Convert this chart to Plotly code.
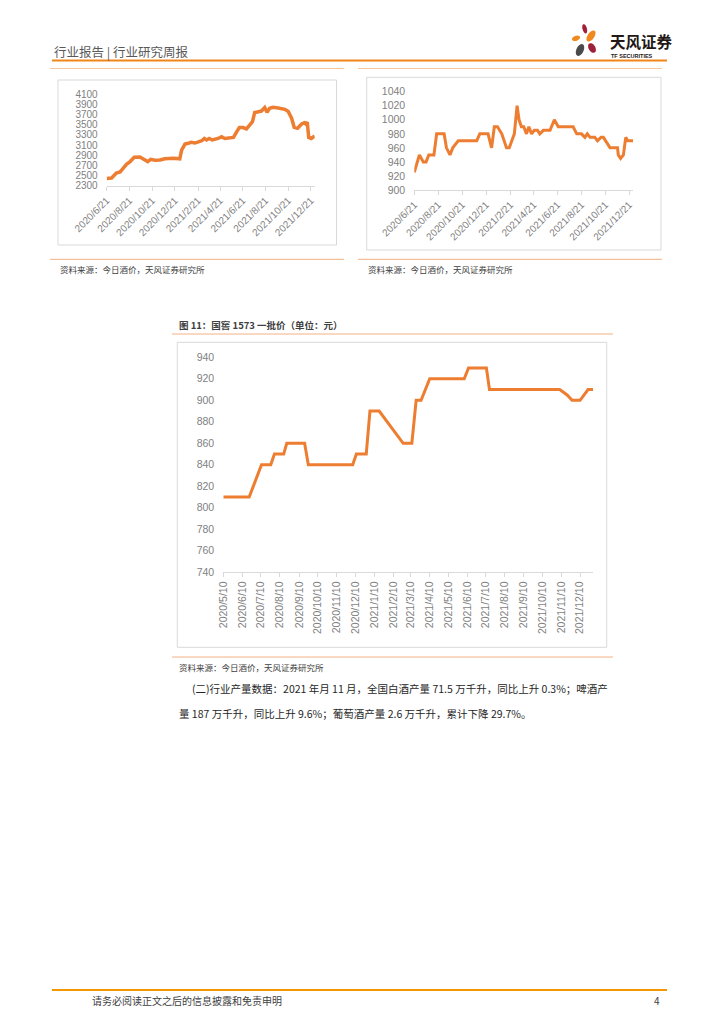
import math
import plotly.graph_objects as go

W, H = 724, 1024
OX, OY = 8, 8  # page body offset compensation
def px(x): return (x - OX) / W
def py(y): return 1 - (y - OY) / H

ORANGE = "#ED7D31"

# ---------- Chart A (top-left, partial previous figure) ----------
a_dates = ["2020-06-21","2020-07-04","2020-07-17","2020-07-27","2020-08-04","2020-08-13","2020-08-22",
           "2020-09-03","2020-09-18","2020-09-30","2020-10-09","2020-10-17","2020-10-28","2020-11-11",
           "2020-11-24","2020-12-17","2020-12-28","2021-01-03","2021-01-08","2021-01-17","2021-01-26",
           "2021-02-02","2021-02-13","2021-02-22","2021-03-03","2021-03-10","2021-03-16","2021-03-23",
           "2021-03-31","2021-04-16","2021-04-25","2021-05-04","2021-05-27","2021-06-05","2021-06-12",
           "2021-06-22","2021-07-01","2021-07-10","2021-07-17","2021-07-23","2021-08-01","2021-08-10",
           "2021-08-19","2021-08-25","2021-09-01","2021-09-10","2021-09-24","2021-10-12","2021-10-21",
           "2021-10-30","2021-11-06","2021-11-15","2021-11-26","2021-12-03","2021-12-07","2021-12-11",
           "2021-12-15","2021-12-22","2021-12-31"]
a_vals = [2440,2450,2550,2570,2640,2720,2770,
          2860,2865,2805,2775,2820,2800,2805,
          2830,2840,2825,2830,3000,3120,3135,
          3155,3140,3170,3185,3230,3200,3230,
          3200,3230,3265,3230,3250,3365,3445,
          3445,3420,3500,3560,3740,3760,3770,
          3840,3745,3825,3845,3830,3805,3760,
          3630,3450,3430,3515,3540,3515,3550,
          3250,3230,3280]
a_tickvals = ["2020-06-21","2020-08-21","2020-10-21","2020-12-21","2021-02-21",
              "2021-04-21","2021-06-21","2021-08-21","2021-10-21","2021-12-21"]
a_ticktext = ["2020/6/21","2020/8/21","2020/10/21","2020/12/21","2021/2/21",
              "2021/4/21","2021/6/21","2021/8/21","2021/10/21","2021/12/21"]

# ---------- Chart B (top-right, partial previous figure) ----------
b_dates = ["2020-06-21","2020-07-04","2020-07-14","2020-07-21","2020-07-28","2020-08-10","2020-08-17",
           "2020-08-21","2020-09-05","2020-09-11","2020-09-20","2020-09-27","2020-10-11","2020-11-27",
           "2020-12-05","2020-12-26","2021-01-04","2021-01-11","2021-01-19","2021-01-30","2021-02-11",
           "2021-02-18","2021-02-24","2021-03-03","2021-03-10","2021-03-15","2021-03-21","2021-03-27",
           "2021-04-03","2021-04-09","2021-04-16","2021-04-23","2021-05-01","2021-05-07","2021-05-16",
           "2021-06-02","2021-06-13","2021-06-23","2021-07-31","2021-08-09","2021-08-21","2021-08-30",
           "2021-09-05","2021-09-12","2021-09-24","2021-10-01","2021-10-10","2021-10-16","2021-11-02",
           "2021-11-21","2021-11-23","2021-11-29","2021-12-06","2021-12-12","2021-12-17","2021-12-31"]
b_vals = [925,950,940,940,950,950,980,
          980,980,960,950,960,970,970,
          980,980,960,990,990,980,960,
          960,970,980,1020,1000,990,990,
          980,990,980,985,985,980,985,
          985,1000,990,990,980,980,975,
          980,975,975,970,975,975,960,
          960,950,945,950,975,970,970]
b_tickvals = a_tickvals
b_ticktext = a_ticktext

# ---------- Main chart: 图11 国窖1573 一批价 ----------
m_dates = ["2020-05-10","2020-06-21","2020-07-11","2020-07-26","2020-08-01","2020-08-16","2020-08-21",
           "2020-09-19","2020-09-25","2020-12-06","2020-12-12","2020-12-28","2021-01-03","2021-01-18",
           "2021-02-26","2021-03-12","2021-03-19","2021-03-27","2021-04-10","2021-06-05","2021-06-12",
           "2021-07-11","2021-07-16","2021-11-07","2021-11-19","2021-11-27","2021-12-10","2021-12-23",
           "2021-12-31"]
m_vals = [810,810,840,840,850,850,860,
          860,840,840,850,850,890,890,
          860,860,900,900,920,920,930,
          930,910,910,905,900,900,910,
          910]
m_tickvals = ["2020-05-10","2020-06-10","2020-07-10","2020-08-10","2020-09-10","2020-10-10",
              "2020-11-10","2020-12-10","2021-01-10","2021-02-10","2021-03-10","2021-04-10",
              "2021-05-10","2021-06-10","2021-07-10","2021-08-10","2021-09-10","2021-10-10",
              "2021-11-10","2021-12-10"]
m_ticktext = ["2020/5/10","2020/6/10","2020/7/10","2020/8/10","2020/9/10","2020/10/10",
              "2020/11/10","2020/12/10","2021/1/10","2021/2/10","2021/3/10","2021/4/10",
              "2021/5/10","2021/6/10","2021/7/10","2021/8/10","2021/9/10","2021/10/10",
              "2021/11/10","2021/12/10"]

TICKFONT = "Liberation Sans"
CJK = "Noto Sans CJK SC"
GRAY = "#7F7F7F"
AXC = "#D9D9D9"

fig = go.Figure()
fig.add_trace(go.Scatter(x=a_dates, y=a_vals, mode="lines", line=dict(color=ORANGE, width=3.5),
                         xaxis="x", yaxis="y", hoverinfo="skip"))
fig.add_trace(go.Scatter(x=b_dates, y=b_vals, mode="lines", line=dict(color=ORANGE, width=3),
                         xaxis="x2", yaxis="y2", hoverinfo="skip"))
fig.add_trace(go.Scatter(x=m_dates, y=m_vals, mode="lines", line=dict(color=ORANGE, width=3),
                         xaxis="x3", yaxis="y3", hoverinfo="skip"))

def xax(domain, rng, tv, tt, angle, size, anchor):
    return dict(domain=domain, range=rng, type="date", tickmode="array", tickvals=tv, ticktext=tt,
                tickangle=angle, showline=True, linecolor=AXC, linewidth=1, ticks="outside",
                ticklen=4, tickcolor=AXC, showgrid=False, zeroline=False, anchor=anchor,
                automargin=False,
                tickfont=dict(family=TICKFONT, size=size, color=GRAY), fixedrange=True)

def yax(domain, rng, dt, size, anchor):
    return dict(domain=domain, range=rng, dtick=dt, tick0=rng[0], showgrid=False, showline=False,
                zeroline=False, ticks="outside", ticklen=6, tickcolor="rgba(0,0,0,0)", anchor=anchor,
                automargin=False,
                tickfont=dict(family=TICKFONT, size=size, color=GRAY), fixedrange=True)

fig.update_layout(
    template="none",
    width=W, height=H, autosize=False, margin=dict(l=0, r=0, t=0, b=0, pad=0),
    paper_bgcolor="white", plot_bgcolor="white", showlegend=False,
    xaxis=xax([px(106.7), px(314.7)], ["2020-06-21", "2021-12-31"], a_tickvals, a_ticktext, -45, 10, "y"),
    yaxis=yax([py(185.7), py(94.3)], [2300, 4100], 200, 10, "x"),
    xaxis2=xax([px(414.3), px(633.2)], ["2020-06-21", "2021-12-31"], b_tickvals, b_ticktext, -45, 10, "y2"),
    yaxis2=yax([py(190), py(91.7)], [900, 1040], 20, 10.5, "x2"),
    xaxis3=xax([px(223.3), px(593)], ["2020-05-10", "2021-12-31"], m_tickvals, m_ticktext, -90, 10.5, "y3"),
    yaxis3=yax([py(572.3), py(357.3)], [740, 940], 20, 10.5, "x3"),
)

shapes = []
def hline(x0, x1, y, color, w):
    shapes.append(dict(type="line", xref="paper", yref="paper", x0=px(x0), x1=px(x1), y0=py(y), y1=py(y),
                       line=dict(color=color, width=w)))
def rect(x0, y0, x1, y1, color="#D9D9D9"):
    shapes.append(dict(type="rect", xref="paper", yref="paper", x0=px(x0), x1=px(x1), y0=py(y1), y1=py(y0),
                       line=dict(color=color, width=1), fillcolor="rgba(0,0,0,0)", layer="below"))
def petal(cx, cy, rx, ry, ang, color):
    a = math.radians(ang)
    pts = []
    for i in range(24):
        t = 2 * math.pi * i / 24
        x = rx * math.cos(t); y = ry * math.sin(t)
        xr = cx + x * math.cos(a) - y * math.sin(a)
        yr = cy + x * math.sin(a) + y * math.cos(a)
        pts.append((px(xr), py(yr)))
    path = "M " + " L ".join(f"{X:.5f},{Y:.5f}" for X, Y in pts) + " Z"
    shapes.append(dict(type="path", xref="paper", yref="paper", path=path, fillcolor=color,
                       line=dict(width=0)))

# header
hline(52, 667, 60.5, "#F08519", 2)
hline(50, 344, 68.5, "#F9C59A", 1)
hline(358, 662, 68.5, "#F9C59A", 1)
# top chart frames
rect(58, 80, 336.5, 245)
rect(366.7, 77.3, 661, 250)
hline(50, 344, 259.3, "#F4B183", 1)
hline(358, 662, 259.3, "#F4B183", 1)
# main figure
hline(172, 613, 334, "#F4B183", 1)
rect(177.3, 342.3, 606.7, 647.3)
hline(172, 613, 657, "#F4B183", 1)
# footer
hline(52, 667, 990, "#F39800", 2)
# logo petals
petal(584.7, 28.8, 2.2, 4.8, -15, "#A0203A")
petal(591.0, 36.0, 3.3, 6.3, 35, "#F08A1C")
petal(576.0, 38.3, 4.2, 2.5, -20, "#F08A1C")
petal(580.0, 50.0, 3.6, 6.3, 25, "#4A4A4A")
petal(592.0, 48.0, 3.3, 5.3, -30, "#A0203A")
fig.update_layout(shapes=shapes)

ann = []
def text(x, y, s, size, color="#404040", anchor="left", bold=False, family=CJK):
    if bold:
        s = f"<b>{s}</b>"
    ann.append(dict(xref="paper", yref="paper", x=px(x), y=py(y), text=s, showarrow=False,
                    xanchor=anchor, yanchor="middle", font=dict(family=family, size=size, color=color)))

text(52, 51, "行业报告 | 行业研究周报", 12.5, "#595959")
text(608, 41, "天风证券", 15.5, "#231815", bold=True)
text(609, 56, "TF SECURITIES", 5.5, "#231815", bold=True, family="Liberation Sans")
text(58, 269, "资料来源：今日酒价，天风证券研究所", 8.5, "#404040")
text(366, 269, "资料来源：今日酒价，天风证券研究所", 8.5, "#404040")
text(177, 325, "图 11：国窖 1573 一批价（单位：元）", 9.5, "#404040", bold=True)
text(177, 667, "资料来源：今日酒价，天风证券研究所", 8.5, "#404040")
text(190, 688, "(二)行业产量数据：2021 年月 11 月，全国白酒产量 71.5 万千升，同比上升 0.3%；啤酒产", 10.5, "#262626")
text(177, 713, "量 187 万千升，同比上升 9.6%；葡萄酒产量 2.6 万千升，累计下降 29.7%。", 10.5, "#262626")
text(90, 1000, "请务必阅读正文之后的信息披露和免责申明", 10, "#404040")
text(662, 1000, "4", 10, "#404040", anchor="right")
fig.update_layout(annotations=ann)

fig.write_html("out.html")
